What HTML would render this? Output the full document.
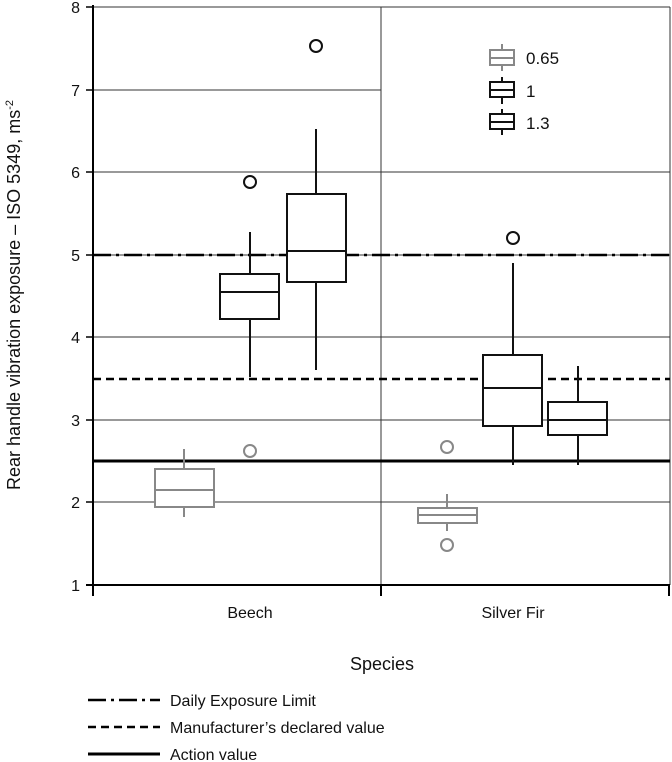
<!DOCTYPE html>
<html><head><style>body{margin:0;background:#fff}svg{display:block}text{font-family:"Liberation Sans",Arial,sans-serif;fill:#111}</style></head><body>
<svg width="672" height="762" viewBox="0 0 672 762" xmlns="http://www.w3.org/2000/svg">
<g stroke="#333" stroke-width="1">
<line x1="93" y1="90" x2="381" y2="90"/>
<line x1="93" y1="172" x2="670" y2="172"/>
<line x1="93" y1="255" x2="670" y2="255"/>
<line x1="93" y1="337" x2="670" y2="337"/>
<line x1="93" y1="420" x2="670" y2="420"/>
<line x1="93" y1="502" x2="670" y2="502"/>
<line x1="381" y1="7" x2="381" y2="585"/>
<line x1="93" y1="7" x2="670" y2="7"/>
<line x1="670" y1="7" x2="670" y2="585"/>
</g>
<g stroke="#000" stroke-width="2">
<line x1="93" y1="5" x2="93" y2="596"/>
<line x1="86" y1="585" x2="670" y2="585"/>
<line x1="381" y1="585" x2="381" y2="596"/>
<line x1="669" y1="585" x2="669" y2="596"/>
</g>
<g stroke="#000" stroke-width="1.5">
<line x1="86" y1="7" x2="93" y2="7"/><line x1="86" y1="90" x2="93" y2="90"/><line x1="86" y1="172" x2="93" y2="172"/><line x1="86" y1="255" x2="93" y2="255"/><line x1="86" y1="337" x2="93" y2="337"/><line x1="86" y1="420" x2="93" y2="420"/><line x1="86" y1="502" x2="93" y2="502"/>
</g>
<g font-size="16" text-anchor="end">
<text x="80" y="13">8</text><text x="80" y="96">7</text><text x="80" y="178">6</text><text x="80" y="261">5</text><text x="80" y="343">4</text><text x="80" y="426">3</text><text x="80" y="508">2</text><text x="80" y="591">1</text>
</g>
<!-- reference lines -->
<line x1="93" y1="255" x2="670" y2="255" stroke="#000" stroke-width="2.5" stroke-dasharray="18,5,3,5"/>
<line x1="93" y1="379" x2="670" y2="379" stroke="#000" stroke-width="2.5" stroke-dasharray="8,5"/>
<line x1="93" y1="461" x2="670" y2="461" stroke="#000" stroke-width="3"/>
<!-- boxes -->
<g fill="none" stroke-width="2">
<g stroke="#888">
<line x1="184" y1="449" x2="184" y2="517"/><rect x="155" y="469" width="59" height="38" fill="#fff"/><line x1="155" y1="490" x2="214" y2="490"/>
<circle cx="250" cy="451" r="6"/>
<line x1="447" y1="494" x2="447" y2="531"/><rect x="418" y="508" width="59" height="15" fill="#fff"/><line x1="418" y1="515" x2="477" y2="515"/>
<circle cx="447" cy="447" r="6"/><circle cx="447" cy="545" r="6"/>
</g>
<g stroke="#111">
<line x1="250" y1="232" x2="250" y2="377"/><rect x="220" y="274" width="59" height="45" fill="#fff"/><line x1="220" y1="292" x2="279" y2="292"/>
<circle cx="250" cy="182" r="6"/>
<line x1="316" y1="129" x2="316" y2="370"/><rect x="287" y="194" width="59" height="88" fill="#fff"/><line x1="287" y1="251" x2="346" y2="251"/>
<circle cx="316" cy="46" r="6"/>
<line x1="513" y1="263" x2="513" y2="465"/><rect x="483" y="355" width="59" height="71" fill="#fff"/><line x1="483" y1="388" x2="542" y2="388"/>
<circle cx="513" cy="238" r="6"/>
<line x1="578" y1="366" x2="578" y2="465"/><rect x="548" y="402" width="59" height="33" fill="#fff"/><line x1="548" y1="420" x2="607" y2="420"/>
</g>
</g>
<!-- legend -->
<g fill="none" stroke-width="2">
<g stroke="#888"><line x1="502" y1="44" x2="502" y2="71"/><rect x="490" y="50" width="24" height="15" fill="#fff"/><line x1="490" y1="58" x2="514" y2="58"/></g>
<g stroke="#111"><line x1="502" y1="77" x2="502" y2="104"/><rect x="490" y="82" width="24" height="15" fill="#fff"/><line x1="490" y1="90" x2="514" y2="90"/>
<line x1="502" y1="109" x2="502" y2="135"/><rect x="490" y="114" width="24" height="15" fill="#fff"/><line x1="490" y1="122" x2="514" y2="122"/></g>
</g>
<g font-size="17"><text x="526" y="64">0.65</text><text x="526" y="97">1</text><text x="526" y="129">1.3</text></g>
<g font-size="16" text-anchor="middle"><text x="250" y="618">Beech</text><text x="513" y="618">Silver Fir</text></g>
<text x="382" y="670" font-size="18" text-anchor="middle">Species</text>
<text transform="translate(20,295) rotate(-90)" font-size="18" text-anchor="middle">Rear handle vibration exposure – ISO 5349, ms<tspan font-size="11" dy="-7">-2</tspan></text>
<line x1="88" y1="700" x2="160" y2="700" stroke="#000" stroke-width="2.5" stroke-dasharray="18,5,3,5"/>
<line x1="88" y1="727" x2="160" y2="727" stroke="#000" stroke-width="2.5" stroke-dasharray="8,5"/>
<line x1="88" y1="754" x2="160" y2="754" stroke="#000" stroke-width="3"/>
<g font-size="16"><text x="170" y="706">Daily Exposure Limit</text><text x="170" y="733">Manufacturer’s declared value</text><text x="170" y="760">Action value</text></g>
</svg>
</body></html>
